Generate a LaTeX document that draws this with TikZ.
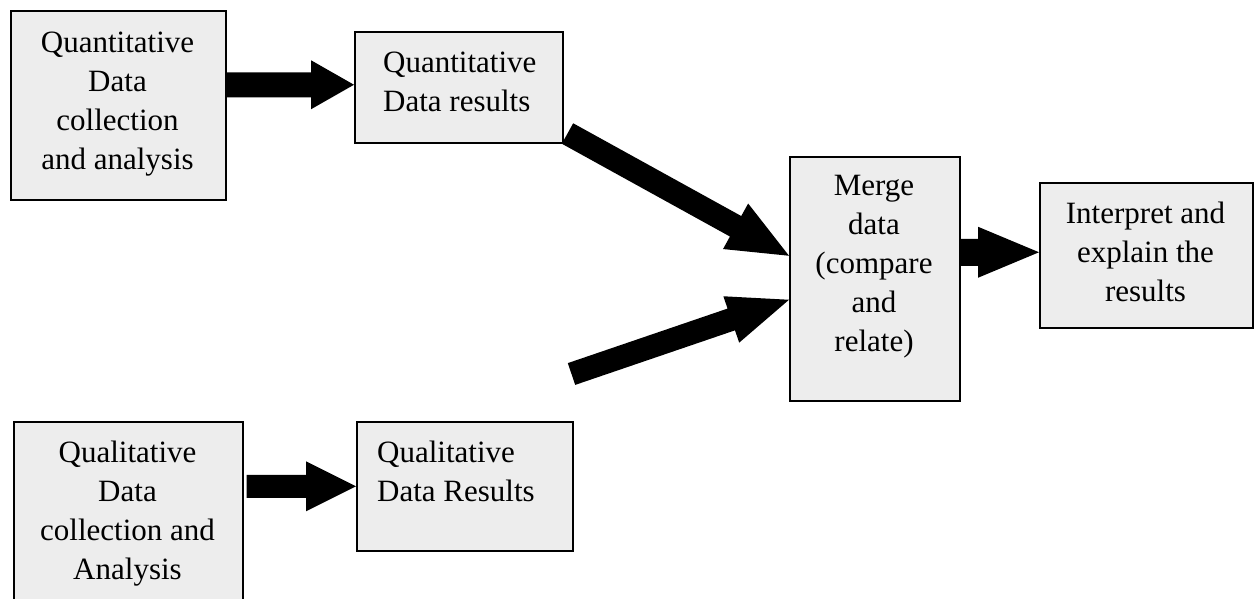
\documentclass[tikz,border=0pt]{standalone}
\usepackage{fontspec}
\setmainfont{Liberation Serif}
\usetikzlibrary{calc}
\definecolor{boxgray}{RGB}{237,237,237}
\tikzset{
  box/.style={draw=black, fill=boxgray, line width=1.5pt, inner sep=0pt, anchor=north west, rectangle},
  txt/.style={inner sep=0pt, anchor=base, font=\fontsize{31}{39}\selectfont},
}
% tail, tip, shaft half width, head half width, head length
\newcommand{\blockarrow}[5]{%
  \coordinate (hb) at ($(#2)!#5!(#1)$);
  \fill[black] ($(#1)!#3!90:(#2)$) -- ($(hb)!#3!90:(#2)$) -- ($(hb)!#4!90:(#2)$) -- (#2)
    -- ($(hb)!#4!-90:(#2)$) -- ($(hb)!#3!-90:(#2)$) -- ($(#1)!#3!-90:(#2)$) -- cycle;
}
\begin{document}
\begin{tikzpicture}[x=1pt,y=-1pt]
\useasboundingbox (0,0) rectangle (1256,598);
\clip (0,0) rectangle (1256,598);

% boxes
\node[box, minimum width=215pt, minimum height=189pt] (A) at (10,10) {};
\node[box, minimum width=208pt, minimum height=111pt] (B) at (354,31) {};
\node[box, minimum width=170pt, minimum height=244pt] (M) at (789,156) {};
\node[box, minimum width=213pt, minimum height=145pt] (I) at (1039,182) {};
\node[box, minimum width=229pt, minimum height=200pt] (Q) at (13,421) {};
\node[box, minimum width=216pt, minimum height=129pt] (R) at (356,421) {};

% texts
\node[txt] (Atxt) at (117.5,52) {\begin{tabular}[t]{@{}c@{}}Quantitative\\Data\\collection\\and analysis\end{tabular}};
\node[txt, anchor=base west] (Btxt) at (383,72) {\begin{tabular}[t]{@{}l@{}}Quantitative\\Data results\end{tabular}};
\node[txt] (Mtxt) at (874,195) {\begin{tabular}[t]{@{}c@{}}Merge\\data\\(compare\\and\\relate)\end{tabular}};
\node[txt] (Itxt) at (1145.5,223) {\begin{tabular}[t]{@{}c@{}}Interpret and\\explain the\\results\end{tabular}};
\node[txt] (Qtxt) at (127.5,462) {\begin{tabular}[t]{@{}c@{}}Qualitative\\Data\\collection and\\Analysis\end{tabular}};
\node[txt, anchor=base west] (Rtxt) at (377,462) {\begin{tabular}[t]{@{}l@{}}Qualitative\\Data Results\end{tabular}};

% arrows
\coordinate (t1) at ($(B.west)+(0,-2.5)$);
\coordinate (s1) at (A.east |- t1);
\blockarrow{s1}{t1}{12.5pt}{24.5pt}{43pt}

\coordinate (t2) at (R.west);
\coordinate (s2) at ($(Q.east |- t2)+(3,0)$);
\blockarrow{s2}{t2}{11.5pt}{25pt}{50pt}

\coordinate (t3) at ($(I.west)+(0,-3)$);
\coordinate (s3) at (M.east |- t3);
\blockarrow{s3}{t3}{13.5pt}{25.5pt}{61pt}

\coordinate (t4) at ($(M.west)+(0,-23)$);
\coordinate (s4) at ($(B.south east)+(4,-10)$);
\blockarrow{s4}{t4}{11.7pt}{26pt}{61pt}

\coordinate (t5) at ($(M.west)+(0,21)$);
\coordinate (s5) at (571.5,374);
\blockarrow{s5}{t5}{11.5pt}{24.5pt}{61pt}
\end{tikzpicture}
\end{document}
